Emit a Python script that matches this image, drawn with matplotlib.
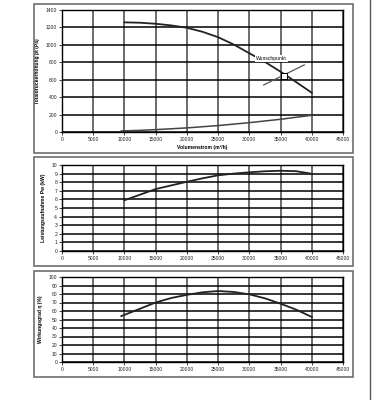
import numpy as np
import matplotlib.pyplot as plt
from matplotlib.patches import Rectangle
from matplotlib.lines import Line2D

plt.rcParams['font.family'] = ['Liberation Sans', 'DejaVu Sans']

# x values (m3/h)
flow_p = [10000, 12500, 15000, 17500, 20000, 22500, 25000, 27500, 30000, 32500, 35000, 37500, 40000]
pressure = [1258, 1254, 1242, 1223, 1196, 1150, 1088, 1004, 904, 804, 692, 573, 450]

flow_sys = [9500, 12500, 15000, 20000, 25000, 30000, 35000, 40000]
system = [12, 19, 27, 47, 74, 107, 146, 192]

flow_pw = [10000, 12500, 15000, 17500, 20000, 22500, 25000, 27500, 30000, 32500, 35000, 37500, 40000]
power = [5.9, 6.55, 7.2, 7.63, 8.05, 8.45, 8.8, 9.0, 9.15, 9.27, 9.33, 9.28, 8.98]

flow_eta = [9500, 12500, 15000, 17500, 20000, 22500, 25000, 27500, 30000, 32500, 35000, 37500, 40000]
efficiency = [54, 62.7, 70, 75.3, 79, 82, 83.5, 82.4, 79.6, 74.9, 68.6, 61.6, 53]

duty_point = (35500, 640)
duty_line_x = [32300, 38800]
duty_line_y = [540, 770]

xticks = list(range(0, 45001, 5000))

W, H = 377, 400
fig = plt.figure(figsize=(W / 100, H / 100), dpi=100)


def ax_at(x0, y0, x1, y1):
    return fig.add_axes([x0 / W, 1 - y1 / H, (x1 - x0) / W, (y1 - y0) / H])


def box(x0, y0, x1, y1):
    fig.patches.append(Rectangle((x0 / W, 1 - y1 / H), (x1 - x0) / W, (y1 - y0) / H,
                                 transform=fig.transFigure, fill=False,
                                 edgecolor='#6e6e6e', linewidth=1.2))


box(34, 4, 353, 153)
box(34, 157, 353, 266)
box(34, 271, 353, 377)
fig.lines.append(Line2D([370 / W, 370 / W], [0, 1], transform=fig.transFigure,
                        color='#555555', linewidth=1.0))


def style(ax, ymax, ystep, ylabel, xlabel=None):
    ax.set_xlim(0, 45000)
    ax.set_ylim(0, ymax)
    ax.set_xticks(xticks)
    ax.set_yticks(np.arange(0, ymax + ystep / 2, ystep))
    ax.tick_params(labelsize=3.6, length=2, width=0.6, pad=1.5, colors='#222222')
    ax.grid(axis='y', color='black', linewidth=1.1)
    ax.grid(axis='x', color='#444444', linewidth=1.1)
    ax.set_axisbelow(True)
    for s in ax.spines.values():
        s.set_linewidth(1.0)
    ax.set_ylabel(ylabel, fontsize=3.6, fontweight='bold', labelpad=4)
    if xlabel:
        ax.set_xlabel(xlabel, fontsize=3.6, fontweight='bold', labelpad=2)


ax1 = ax_at(62, 10, 343, 132)
style(ax1, 1400, 200, 'Totaldruckerhöhung pt (Pa)', 'Volumenstrom (m³/h)')
ax1.plot(flow_p, pressure, color='#222222', linewidth=1.3)
ax1.plot(flow_sys, system, color='#444444', linewidth=1.1)
ax1.plot(duty_line_x, duty_line_y, color='#555555', linewidth=0.9)
ax1.plot(*duty_point, marker='s', markersize=4, markerfacecolor='white',
         markeredgecolor='black', markeredgewidth=0.7)
ax1.text(33500, 840, 'Wunschpunkt', fontsize=3.6, ha='center', va='center',
         bbox=dict(facecolor='white', edgecolor='none', pad=0.8))

ax2 = ax_at(62, 165, 343, 251)
style(ax2, 10, 1, 'Leistungsaufnahme Pw (kW)')
ax2.plot(flow_pw, power, color='#222222', linewidth=1.3)

ax3 = ax_at(62, 277, 343, 362)
style(ax3, 100, 10, 'Wirkungsgrad η (%)')
ax3.plot(flow_eta, efficiency, color='#222222', linewidth=1.3)

fig.savefig('out.png', dpi=100)
